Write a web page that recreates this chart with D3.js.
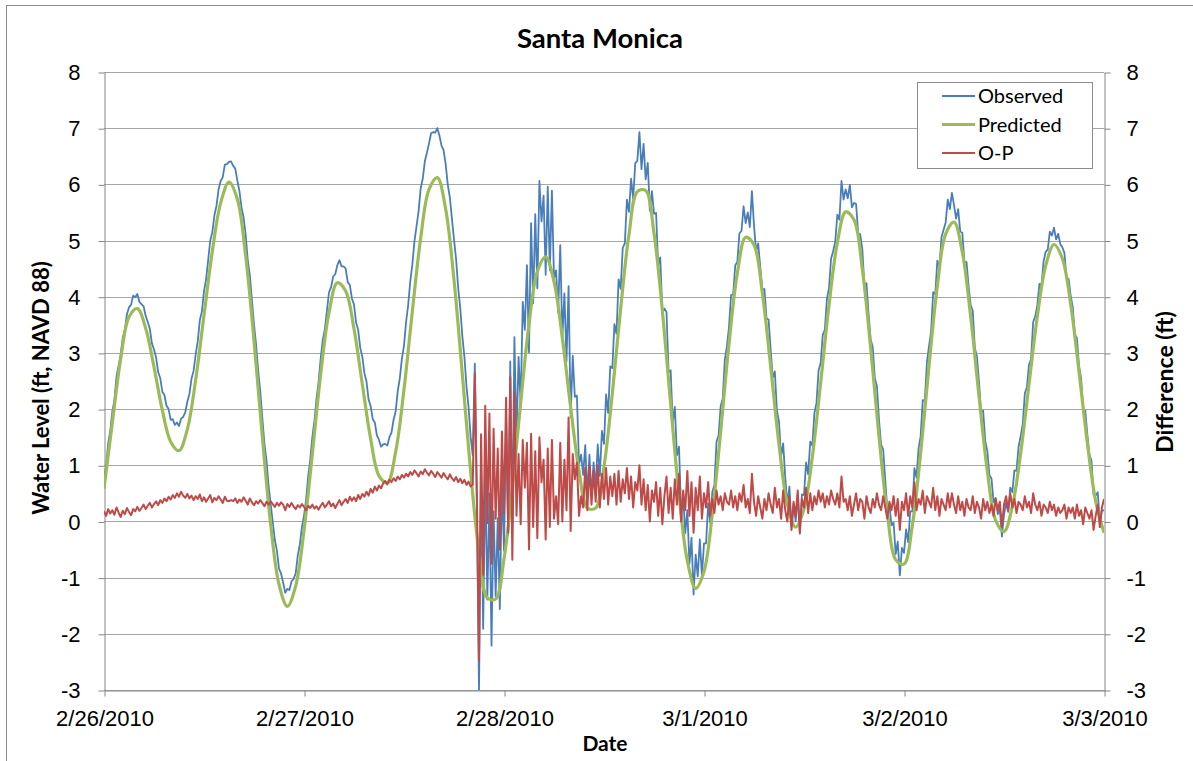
<!DOCTYPE html>
<html>
<head>
<meta charset="utf-8">
<style>
  body { margin: 0; background: #fff; }
  svg { display: block; font-family: Lato, 'Open Sans', sans-serif; }
  .axis .domain { stroke: #868686; }
  .axis line { stroke: #868686; }
  .axis text { fill: #000; font-size: 22px; }
</style>
</head>
<body>
<svg id="chart" width="1193" height="761"></svg>
<script src="https://cdn.jsdelivr.net/npm/d3@7"></script>
<script>
// 2/26/2010 00:00 .. 3/3/2010 00:00
const startDate = new Date(2010, 1, 26);
const dayTicks = ["2010-02-26", "2010-02-27", "2010-02-28", "2010-03-01", "2010-03-02", "2010-03-03"];
const yTicks = [-3, -2, -1, 0, 1, 2, 3, 4, 5, 6, 7, 8];

// predicted tide, one value per hour
const predicted = [
  0.58, 1.76, 2.89, 3.64, 3.79, 3.44, 2.75, 1.98, 1.42, 1.26, 1.64, 2.52, 3.67, 4.81, 5.67, 6.04, 5.74, 4.73, 3.22, 1.51,
  -0.05, -1.12, -1.51, -1.15, -0.16, 1.20, 2.62, 3.72, 4.25, 4.10, 3.43, 2.44, 1.47, 0.81, 0.69, 1.24, 2.35, 3.74, 5.04, 5.91,
  6.12, 5.56, 4.30, 2.62, 0.88, -0.55, -1.36, -1.38, -0.67, 0.60, 2.11, 3.51, 4.45, 4.71, 4.27, 3.27, 2.03, 0.91, 0.24, 0.24,
  0.98, 2.28, 3.79, 5.11, 5.87, 5.89, 5.13, 3.76, 2.09, 0.48, -0.70, -1.19, -0.89, 0.13, 1.60, 3.16, 4.42, 5.06, 4.92, 4.07,
  2.76, 1.37, 0.31, -0.10, 0.22, 1.15, 2.47, 3.85, 4.96, 5.51, 5.37, 4.49, 3.09, 1.51, 0.15, -0.68, -0.76, -0.07, 1.22, 2.77,
  4.19, 5.12, 5.33, 4.79, 3.65, 2.23, 0.90, 0.02, -0.18, 0.27, 1.22, 2.44, 3.65, 4.55, 4.93, 4.68, 3.87, 2.67, 1.40, 0.36,
  -0.20
];

// observed water level, every 15 minutes
const observed = [
  0.76,0.98,1.39,1.61, 1.96,2.16,2.58,2.77, 2.97,3.27,3.40,3.69, 3.81,3.86,4.02,3.99, 4.05,3.91,3.87,3.83,
  3.66,3.55,3.43,3.17, 3.06,2.92,2.66,2.55, 2.31,2.25,2.06,2.00, 1.81,1.82,1.72,1.76, 1.70,1.83,1.86,1.94,
  2.13,2.27,2.54,2.68, 2.97,3.21,3.58,3.74, 4.10,4.31,4.65,5.00, 5.15,5.45,5.62,5.91, 6.06,6.13,6.35,6.36,
  6.40,6.41,6.33,6.28, 6.07,5.88,5.59,5.41, 5.10,4.65,4.39,3.94, 3.51,3.15,2.69,2.32, 1.84,1.39,1.08,0.64,
  0.31,-0.01,-0.33,-0.52, -0.84,-0.93,-1.09,-1.27, -1.20,-1.22,-1.07,-1.02, -0.93,-0.61,-0.41,-0.10, 0.10,0.38,0.80,1.10,
  1.50,1.79,2.18,2.48, 2.90,3.23,3.42,3.75, 4.08,4.17,4.36,4.40, 4.56,4.65,4.54,4.54, 4.50,4.26,4.21,3.97,
  3.86,3.54,3.41,3.09, 2.93,2.64,2.49,2.17, 2.05,1.82,1.76,1.53, 1.45,1.33,1.37,1.38, 1.35,1.50,1.58,1.81,
  1.96,2.32,2.55,2.90, 3.13,3.55,3.85,4.27, 4.57,4.98,5.25,5.52, 5.93,6.10,6.41,6.56, 6.73,6.91,6.93,6.92,
  7.00,6.87,6.69,6.61, 6.36,6.00,5.77,5.39, 5.02,4.67,4.16,3.80, 3.30,2.93,2.40,2.03, 1.50,1.18,2.81,0.21,
  -3.03,0.80,-1.91,0.90, -1.39,0.50,-2.21,0.18, -1.33,0.06,-1.56,0.73, -0.52,1.85,-0.24,2.85, -0.08,3.28,1.46,2.93,
  2.06,3.91,3.41,4.56, 3.01,5.31,3.88,5.47, 4.15,6.06,5.34,5.80, 4.39,5.96,4.47,5.89, 4.32,4.47,3.72,4.92,
  3.27,4.06,2.85,4.19, 1.86,2.95,2.22,2.24, 1.01,1.19,0.83,1.36, 0.44,1.19,0.46,1.05, 0.59,1.37,0.81,1.61,
  1.38,2.26,1.93,2.76, 2.73,3.51,3.34,4.31, 4.14,4.87,4.95,5.73, 5.51,6.10,5.74,6.38, 6.42,6.93,6.27,6.72,
  6.09,6.38,5.53,5.88, 5.48,5.49,4.55,4.70, 3.71,3.79,3.73,2.66, 2.69,1.74,2.04,1.18, 1.33,0.19,0.44,-0.21,
  0.20,-0.76,-0.29,-1.30, -0.59,-0.98,-0.32,-0.97, -0.39,-0.39,0.32,-0.03, 0.53,0.65,1.42,1.53, 2.05,2.19,2.88,3.12,
  3.46,4.03,4.04,4.56, 4.62,5.13,5.17,5.61, 5.31,5.50,5.24,5.88, 5.27,4.81,4.95,4.53, 4.12,4.14,3.62,3.59,
  3.06,2.56,2.67,1.97, 1.77,1.16,1.39,0.78, 0.31,0.62,-0.10,0.31, 0.00,0.47,-0.22,0.48, 0.47,1.05,0.84,1.42,
  1.35,1.93,2.11,2.69, 2.82,3.32,3.41,3.96, 4.15,4.68,4.81,4.98, 5.46,5.37,6.06,5.73, 5.91,5.75,5.99,5.59,
  5.67,5.65,5.13,5.11, 4.84,4.19,4.24,3.69, 3.24,3.10,2.55,2.41, 1.81,1.37,1.28,0.74, 0.20,0.29,-0.07,-0.02,
  -0.58,-0.36,-0.96,-0.47, -0.56,-0.14,-0.37,0.18, 0.18,0.95,0.78,1.30, 1.52,2.16,2.15,2.83, 3.12,3.38,4.08,4.04,
  4.64,4.52,5.06,5.19, 5.32,5.73,5.56,5.85, 5.63,5.39,5.56,5.16, 5.14,4.61,4.62,4.19, 3.85,3.75,3.09,2.94,
  2.48,1.95,1.97,1.43, 1.25,0.83,0.76,0.34, 0.42,0.13,0.22,-0.27, 0.12,0.33,0.17,0.60, 0.52,0.91,0.90,1.33,
  1.52,1.73,2.28,2.39, 2.79,2.89,3.55,3.65, 3.85,4.23,4.20,4.63, 4.80,4.84,5.16,5.09, 5.23,5.02,5.12,4.94,
  4.88,4.78,4.33,4.32, 4.02,3.82,3.32,3.27, 2.77,2.55,1.99,1.97, 1.55,1.19,1.08,0.47, 0.46,0.52,-0.02,0.19,
  0.20
];

// observed minus predicted, every 15 minutes (right axis)
const difference = [
  0.18,0.10,0.22,0.14, 0.20,0.12,0.25,0.16, 0.08,0.19,0.13,0.24, 0.17,0.11,0.22,0.18, 0.26,0.19,0.24,0.30,
  0.22,0.28,0.33,0.25, 0.31,0.36,0.29,0.38, 0.33,0.41,0.36,0.44, 0.39,0.47,0.42,0.50, 0.44,0.53,0.46,0.42,
  0.49,0.41,0.46,0.38, 0.45,0.40,0.48,0.36, 0.43,0.35,0.41,0.47, 0.34,0.42,0.38,0.45, 0.39,0.33,0.44,0.37,
  0.36,0.38,0.36,0.41, 0.33,0.39,0.35,0.43, 0.37,0.30,0.41,0.34, 0.29,0.36,0.32,0.38, 0.33,0.27,0.35,0.30,
  0.36,0.31,0.26,0.33, 0.28,0.34,0.30,0.20, 0.31,0.26,0.33,0.27, 0.22,0.29,0.25,0.31, 0.26,0.20,0.28,0.24,
  0.30,0.23,0.27,0.21, 0.28,0.33,0.25,0.30, 0.36,0.27,0.32,0.24, 0.31,0.38,0.29,0.35, 0.40,0.33,0.44,0.37,
  0.43,0.36,0.47,0.40, 0.49,0.44,0.53,0.46, 0.58,0.51,0.62,0.55, 0.64,0.59,0.68,0.72, 0.66,0.74,0.70,0.77,
  0.72,0.80,0.75,0.83, 0.78,0.85,0.80,0.88, 0.83,0.91,0.86,0.80, 0.89,0.84,0.93,0.87, 0.82,0.90,0.85,0.79,
  0.88,0.83,0.78,0.86, 0.80,0.75,0.84,0.77, 0.72,0.79,0.70,0.76, 0.68,0.74,0.65,0.71, 0.62,0.66,2.64,0.40,
  -2.48,1.55,-0.95,2.06, -0.03,1.92,-0.75,1.65, 0.05,1.30,-0.50,1.60, 0.15,2.20,-0.20,2.57, -0.68,2.30,0.10,1.20,
  -0.05,1.45,0.60,1.40, -0.50,1.56,-0.10,1.25, -0.30,1.50,0.70,1.10, -0.32,1.30,-0.10,1.45, 0.05,0.45,-0.05,1.40,
  0.00,1.10,0.20,1.85, -0.17,1.20,0.75,1.05, 0.10,0.45,0.25,0.95, 0.20,1.00,0.30,0.90, 0.35,1.00,0.25,0.85,
  0.40,0.95,0.30,0.80, 0.45,0.85,0.30,0.90, 0.35,0.75,0.50,0.95, 0.40,0.80,0.25,0.70, 0.55,1.00,0.30,0.75,
  0.20,0.65,0.00,0.55, 0.35,0.70,0.10,0.60, -0.05,0.45,0.80,0.15, 0.60,0.05,0.75,0.30, 0.85,0.00,0.55,0.20,
  0.90,0.10,0.70,-0.20, 0.60,0.20,0.80,0.05, 0.50,0.25,0.70,0.10, 0.40,0.15,0.55,0.30, 0.45,0.20,0.50,0.35,
  0.30,0.55,0.25,0.45, 0.20,0.50,0.35,0.65, 0.25,0.40,0.15,0.85, 0.35,0.10,0.45,0.25, 0.05,0.40,0.20,0.50,
  0.30,0.15,0.60,0.25, 0.40,0.05,0.55,0.20, 0.00,0.45,-0.15,0.35, 0.10,0.55,-0.20,0.40, 0.25,0.60,0.15,0.50,
  0.20,0.45,0.30,0.55, 0.35,0.50,0.25,0.45, 0.30,0.55,0.40,0.30, 0.50,0.25,0.80,0.35, 0.40,0.20,0.45,0.10,
  0.30,0.50,0.20,0.40, 0.35,0.05,0.45,0.25, 0.15,0.40,0.25,0.50, 0.30,0.20,0.45,0.25, 0.05,0.35,0.20,0.45,
  0.10,0.40,-0.15,0.35, 0.20,0.50,0.10,0.45, 0.25,0.70,0.20,0.40, 0.30,0.55,0.15,0.45, 0.35,0.25,0.60,0.20,
  0.45,0.10,0.40,0.30, 0.20,0.50,0.25,0.50, 0.30,0.15,0.45,0.20, 0.35,0.10,0.40,0.25, 0.20,0.45,0.15,0.35,
  0.25,0.05,0.40,0.20, 0.35,0.15,0.30,0.10, 0.40,0.20,0.35,-0.10, 0.30,0.45,0.20,0.50, 0.25,0.40,0.15,0.35,
  0.30,0.20,0.45,0.25, 0.35,0.15,0.50,0.30, 0.20,0.35,0.10,0.30, 0.25,0.15,0.35,0.20, 0.30,0.10,0.25,0.15,
  0.20,0.30,0.05,0.25, 0.15,0.25,0.05,0.30, 0.10,0.20,-0.05,0.25, 0.15,0.05,0.20,-0.15, 0.10,0.30,-0.10,0.25,
  0.40
];

const seriesNames = ["Observed", "Predicted", "O-P"];
const seriesColors = ["#4a7ebb", "#9bbb59", "#be4b48"];
const seriesWidths = [1.8, 3.2, 2];

const svg = d3.select("#chart");
const W = 1193, H = 761;
const plot = { left: 104, right: 1104, top: 72, bottom: 690 };

svg.append("rect").attr("width", W).attr("height", H).attr("fill", "#fff");
// chart frame (only its top and left edges fall inside the picture)
svg.append("rect")
  .attr("x", 6.5).attr("y", 5.5).attr("width", 1220).attr("height", 800)
  .attr("fill", "none").attr("stroke", "#8c8c8c").attr("stroke-width", 1);

const parseDay = d3.timeParse("%Y-%m-%d");
const x = d3.scaleTime()
  .domain([parseDay(dayTicks[0]), parseDay(dayTicks[dayTicks.length - 1])])
  .range([plot.left, plot.right]);
const y = d3.scaleLinear().domain([-3, 8]).range([plot.bottom, plot.top]);
const y2 = d3.scaleLinear().domain([-3, 8]).range([plot.bottom, plot.top]);

const atMinutes = m => new Date(startDate.getTime() + m * 60000);

// gridlines
svg.append("g")
  .selectAll("line")
  .data(yTicks)
  .join("line")
  .attr("x1", plot.left).attr("x2", plot.right)
  .attr("y1", d => Math.round(y(d)) + 0.5).attr("y2", d => Math.round(y(d)) + 0.5)
  .attr("stroke", "#a6a6a6").attr("stroke-width", 1);

// axes
const fmt = d => String(d);
svg.append("g")
  .attr("class", "axis")
  .attr("transform", `translate(${plot.left + 0.5},0.5)`)
  .call(d3.axisLeft(y).tickValues(yTicks).tickFormat(fmt).tickSize(6).tickSizeOuter(0).tickPadding(18));

svg.append("g")
  .attr("class", "axis")
  .attr("transform", `translate(${plot.right + 0.5},0.5)`)
  .call(d3.axisRight(y2).tickValues(yTicks).tickFormat(fmt).tickSize(6).tickSizeOuter(0).tickPadding(16));

svg.append("g")
  .attr("class", "axis")
  .attr("transform", `translate(0.5,${plot.bottom + 0.5})`)
  .call(d3.axisBottom(x).tickValues(dayTicks.map(parseDay))
    .tickFormat(d3.timeFormat("%-m/%-d/%Y")).tickSize(6).tickSizeOuter(0).tickPadding(14));

// lines, clipped to the plot area
svg.append("clipPath").attr("id", "clip")
  .append("rect")
  .attr("x", plot.left).attr("y", plot.top)
  .attr("width", plot.right - plot.left).attr("height", plot.bottom - plot.top);

const lines = svg.append("g").attr("clip-path", "url(#clip)");

const obsLine = d3.line().x((d, i) => x(atMinutes(i * 15))).y(d => y(d));
const predLine = d3.line().x((d, i) => x(atMinutes(i * 60))).y(d => y(d)).curve(d3.curveCatmullRom.alpha(0.5));
const diffLine = d3.line().x((d, i) => x(atMinutes(i * 15))).y(d => y2(d));

lines.append("path").datum(observed)
  .attr("d", obsLine).attr("fill", "none")
  .attr("stroke", seriesColors[0]).attr("stroke-width", seriesWidths[0]).attr("stroke-linejoin", "round");
lines.append("path").datum(predicted)
  .attr("d", predLine).attr("fill", "none")
  .attr("stroke", seriesColors[1]).attr("stroke-width", seriesWidths[1]).attr("stroke-linejoin", "round");
lines.append("path").datum(difference)
  .attr("d", diffLine).attr("fill", "none")
  .attr("stroke", seriesColors[2]).attr("stroke-width", seriesWidths[2]).attr("stroke-linejoin", "round");

// titles
svg.append("text")
  .attr("x", 600).attr("y", 48)
  .attr("text-anchor", "middle")
  .attr("font-size", 27.5).attr("font-weight", "bold")
  .text("Santa Monica");

svg.append("text")
  .attr("transform", "translate(49,388) rotate(-90)")
  .attr("text-anchor", "middle")
  .attr("font-size", 22).attr("font-weight", "bold")
  .text("Water Level (ft, NAVD 88)");

svg.append("text")
  .attr("transform", "translate(1173,382) rotate(-90)")
  .attr("text-anchor", "middle")
  .attr("font-size", 23).attr("font-weight", "bold")
  .text("Difference (ft)");

svg.append("text")
  .attr("x", 605).attr("y", 751)
  .attr("text-anchor", "middle")
  .attr("font-size", 21).attr("font-weight", "bold")
  .text("Date");

// legend
const legend = svg.append("g");
legend.append("rect")
  .attr("x", 917.5).attr("y", 82.5).attr("width", 175).attr("height", 86)
  .attr("fill", "#fff").attr("stroke", "#8c8c8c");

const rowY = d3.scalePoint().domain(seriesNames).range([96, 153]);
const rows = legend.selectAll("g.row")
  .data(seriesNames)
  .join("g")
  .attr("class", "row")
  .attr("transform", d => `translate(0,${rowY(d)})`);
rows.append("line")
  .attr("x1", 942).attr("x2", 975)
  .attr("stroke", (d, i) => seriesColors[i])
  .attr("stroke-width", (d, i) => seriesWidths[i]);
rows.append("text")
  .attr("x", 978).attr("dy", "0.35em")
  .attr("font-size", 20)
  .text(d => d);
</script>
</body>
</html>
